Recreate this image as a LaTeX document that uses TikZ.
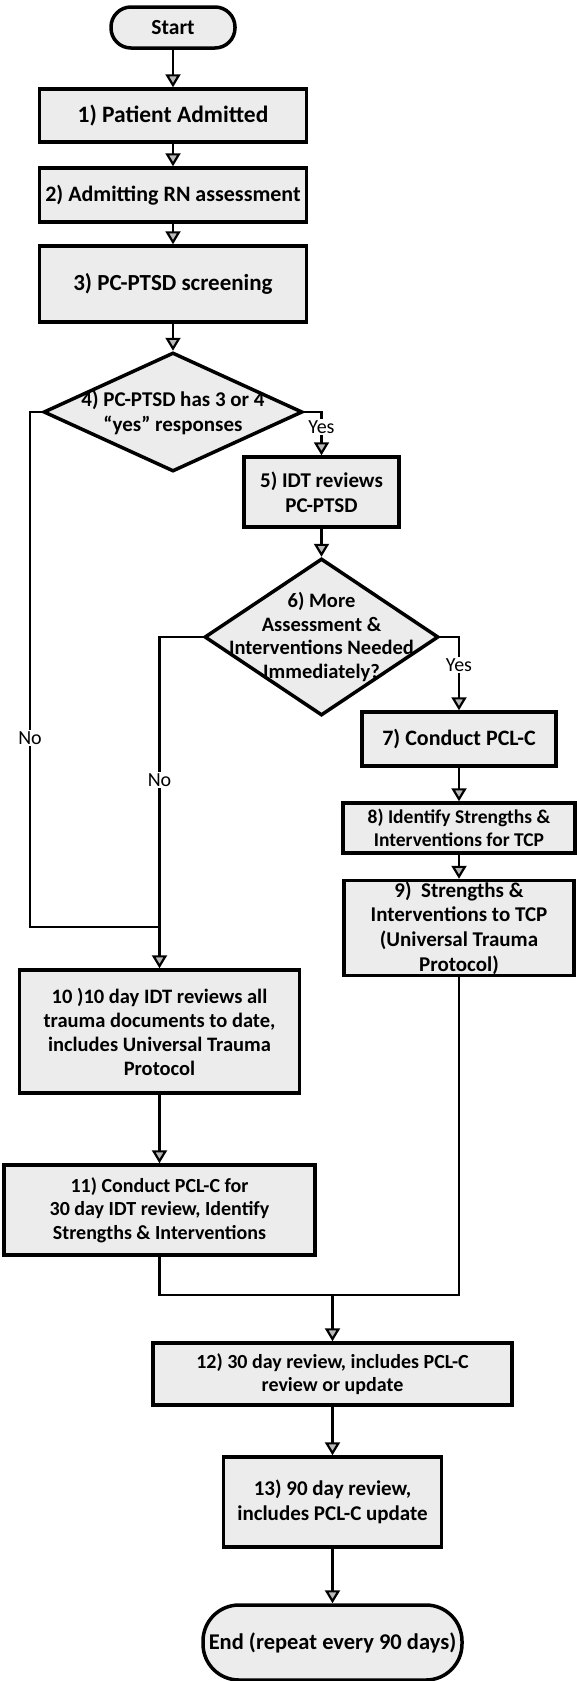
\documentclass[tikz,border=0pt]{standalone}
\usepackage{fontspec}
\setmainfont{Carlito}
\usetikzlibrary{arrows.meta,shapes.geometric}
\begin{document}
\begin{tikzpicture}[x=1pt,y=-1pt,
  fs/.style={font=\fontsize{#1}{\dimexpr #1pt*117/100\relax}\selectfont\bfseries},
  every node/.style={fs=20},
  box/.style={draw, line width=3.5pt, fill=gray!15, align=center, inner sep=0pt},
  dia/.style={draw, diamond, line width=3.5pt, fill=gray!15, inner sep=0pt},
  txt/.style={align=center, inner sep=0pt},
  conn/.style={line width=2.2pt},
  arr/.style={conn, -{Triangle[length=13pt,width=15pt,fill=gray!55]}},
  lbl/.style={fill=white, inner sep=1.5pt, font=\fontsize{20}{24}\selectfont}
]
\useasboundingbox (0,0) rectangle (577,1681);

\node[box, fs=21.5, minimum width=124pt, minimum height=41pt, rounded corners=20pt] (start) at (173,27.5) {Start};
\node[box, fs=23.5, minimum width=267pt, minimum height=53pt] (b1) at (173,115.5) {1) Patient Admitted};
\node[box, fs=22, minimum width=267pt, minimum height=54pt] (b2) at (173,195) {2) Admitting RN assessment};
\node[box, fs=23, minimum width=267pt, minimum height=76pt] (b3) at (173,284) {3) PC-PTSD screening};
\node[dia, minimum width=259pt, minimum height=119pt] (d4) at (173,412) {};
\node[txt, fs=21] (d4t) at (173,413) {4) PC-PTSD has 3 or 4\\“yes” responses};
\node[box, fs=21, minimum width=155pt, minimum height=70pt] (b5) at (321.5,492) {5) IDT reviews\\PC-PTSD};
\node[dia, minimum width=234pt, minimum height=157pt] (d6) at (321.5,637) {};
\node[txt, fs=20.5] (d6t) at (321.5,637) {6) More\\Assessment \&\\Interventions Needed\\Immediately?};
\node[box, fs=22, minimum width=194pt, minimum height=54pt] (b7) at (459,739) {7) Conduct PCL-C};
\node[box, fs=19.5, minimum width=232pt, minimum height=50pt] (b8) at (459,828) {8) Identify Strengths \&\\Interventions for TCP};
\node[box, fs=21, minimum width=230pt, minimum height=95pt] (b9) at (459,928) {9)\ \ Strengths \&\\Interventions to TCP\\(Universal Trauma\\Protocol)};
\node[box, fs=20.5, minimum width=280pt, minimum height=123pt] (b10) at (159.5,1031.5) {10 )10 day IDT reviews all\\trauma documents to date,\\includes Universal Trauma\\Protocol};
\node[box, fs=20, minimum width=311pt, minimum height=90pt] (b11) at (159.5,1210) {11) Conduct PCL-C for\\30 day IDT review, Identify\\Strengths \& Interventions};
\node[box, fs=20, minimum width=359pt, minimum height=62pt] (b12) at (332.5,1374) {12) 30 day review, includes PCL-C\\review or update};
\node[box, fs=21, minimum width=218pt, minimum height=90pt] (b13) at (332.5,1502) {13) 90 day review,\\includes PCL-C update};
\node[box, fs=22.5, minimum width=259pt, minimum height=75pt, rounded corners=36pt] (end) at (332.5,1642.5) {End (repeat every 90 days)};

\draw[arr] (start) -- (b1);
\draw[arr] (b1) -- (b2);
\draw[arr] (b2) -- (b3);
\draw[arr] (b3) -- (d4);
\draw[arr] (d4.east) -| (b5.north);
\draw[arr] (b5) -- (d6);
\draw[arr] (d6.east) -| (b7.north);
\draw[arr] (b7) -- (b8);
\draw[arr] (b8) -- (b9);
\coordinate (cL) at (30,412);
\coordinate (j1) at (159.5,927);
\draw[conn] (d4.west) -- (cL) |- (j1);
\draw[arr] (d6.west) -| (b10.north);
\draw[arr] (b10) -- (b11);
\coordinate (m) at (332.5,1295);
\draw[conn] (b11.south) |- (m);
\draw[conn] (b9.south) |- (m);
\draw[arr] (m) -- (b12);
\draw[arr] (b12) -- (b13);
\draw[arr] (b13) -- (end);

\node[lbl] (y1) at (321.5,427) {Yes};
\node[lbl] (y2) at (459,665) {Yes};
\node[lbl] (n1) at (30,738) {No};
\node[lbl] (n2) at (159.5,780) {No};
\end{tikzpicture}
\end{document}
